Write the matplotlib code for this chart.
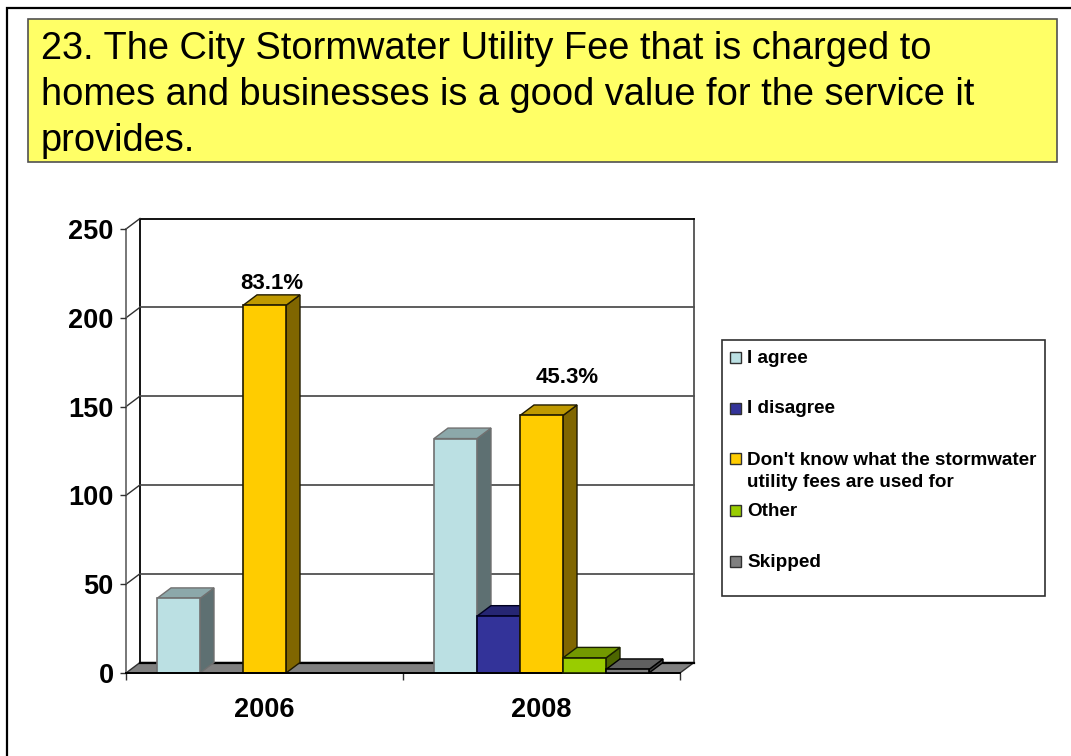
import matplotlib
matplotlib.use("Agg")
import matplotlib.pyplot as plt
from matplotlib.patches import Polygon, Rectangle

plt.rcParams['font.family'] = ['Liberation Sans', 'DejaVu Sans']

W, H = 1071, 756
title_lines = ["23. The City Stormwater Utility Fee that is charged to",
               "homes and businesses is a good value for the service it",
               "provides."]
years = ["2006", "2008"]
series = ["I agree", "I disagree", "Don't know what the stormwater\nutility fees are used for", "Other", "Skipped"]
values_2006 = [42, 0, 207, 0, 0]
values_2008 = [132, 32, 145, 8.5, 2]
y_ticks = [0, 50, 100, 150, 200, 250]
front_colors = ["#BBE0E3", "#333399", "#FFCC00", "#99CC00", "#808080"]
top_colors = ["#8CA8AA", "#262673", "#BF9900", "#739900", "#606060"]
side_colors = ["#5E7072", "#1A1A4D", "#806600", "#4D6600", "#404040"]
edge_colors = ["#707070", "#000020", "#201a00", "#1a2000", "#000000"]

fig = plt.figure(figsize=(W / 100, H / 100), dpi=100, facecolor="white")

# pixel overlay
ov = fig.add_axes([0, 0, 1, 1], zorder=0)
ov.set_xlim(0, W)
ov.set_ylim(H, 0)
ov.axis("off")

# slide border
ov.plot([7, 7, W], [H, 8, 8], color="black", lw=1.6, solid_joinstyle="miter")

# title
ov.add_patch(Rectangle((28, 19), 1029, 143, facecolor="#FFFF66", edgecolor="#505050", lw=1.2))
for ln, base in zip(title_lines, [59, 105, 151]):
    ov.text(41, base, ln, fontsize=27.4, va="baseline", ha="left", color="black")

# chart axes
L, R, T, B = 126, 680, 229, 673
ax = fig.add_axes([L / W, 1 - B / H, (R - L) / W, (B - T) / H], zorder=1)
ax.patch.set_alpha(0)
ax.set_xlim(0, 2)
ax.set_ylim(0, 250)
dx = 14 / (R - L) * 2
dy = 10.5 / (B - T) * 250
for s in ["top", "right"]:
    ax.spines[s].set_visible(False)
ax.spines["left"].set_color("#606060")
ax.spines["left"].set_linewidth(1.2)
ax.spines["bottom"].set_color("black")
ax.spines["bottom"].set_linewidth(1.4)
ax.spines["left"].set_zorder(1)

# floor
ax.add_patch(Polygon([(0, 0), (dx, dy), (2 + dx, dy), (2, 0)], closed=True,
                     facecolor="#808080", edgecolor="#303030", lw=1.0, clip_on=False, zorder=1))
ax.plot([dx, 2 + dx], [dy, dy], color="black", lw=1.6, clip_on=False, zorder=1.1)
# walls and gridlines
ax.plot([dx, dx], [dy, 250 + dy], color="black", lw=1.3, clip_on=False, zorder=1)
ax.plot([2 + dx, 2 + dx], [dy, 250 + dy], color="#505050", lw=1.3, clip_on=False, zorder=1)
for v in y_ticks[1:]:
    col = "black" if v == 250 else "#505050"
    ax.plot([dx, 2 + dx], [v + dy, v + dy], color=col, lw=1.3, clip_on=False, zorder=1)
    ax.plot([0, dx], [v, v + dy], color="#303030", lw=1.0, clip_on=False, zorder=1)

# bars
bw = 43 / (R - L) * 2
gap = (1 - 5 * bw) / 2
z = 2
for c, vals in enumerate([values_2006, values_2008]):
    for i, v in enumerate(vals):
        if v <= 0:
            continue
        x0 = c + gap + i * bw
        x1 = x0 + bw
        ec = edge_colors[i]
        ax.add_patch(Polygon([(x1, 0), (x1 + dx, dy), (x1 + dx, v + dy), (x1, v)], closed=True,
                             facecolor=side_colors[i], edgecolor=ec, lw=1.0, clip_on=False, zorder=z))
        ax.add_patch(Polygon([(x0, v), (x0 + dx, v + dy), (x1 + dx, v + dy), (x1, v)], closed=True,
                             facecolor=top_colors[i], edgecolor=ec, lw=1.0, clip_on=False, zorder=z))
        ax.bar(x0, v, width=bw, align="edge", color=front_colors[i], edgecolor=ec, lw=1.2,
               clip_on=False, zorder=z)
        z += 0.1

# percentage labels
bar_06_x = 0 + gap + 2.5 * bw
bar_08_x = 1 + gap + 2.5 * bw
ax.annotate("83.1%", (bar_06_x, values_2006[2]), xytext=(5, 16), textcoords="offset points",
            ha="center", va="center", fontsize=16, fontweight="bold", annotation_clip=False, zorder=10)
ax.annotate("45.3%", (bar_08_x, values_2008[2]), xytext=(18.5, 27.5), textcoords="offset points",
            ha="center", va="center", fontsize=16, fontweight="bold", annotation_clip=False, zorder=10)

# ticks
ax.set_yticks(y_ticks)
ax.set_yticklabels([str(v) for v in y_ticks], fontsize=19.5, fontweight="bold")
ax.tick_params(axis="y", length=4, width=1, color="#303030", pad=5)
ax.set_xticks([0, 1, 2])
ax.set_xticklabels([])
ax.set_xticks([0.5, 1.5], minor=True)
ax.set_xticklabels(years, minor=True, fontsize=19.5, fontweight="bold")
ax.tick_params(axis="x", which="major", length=5, width=1, color="#303030")
ax.tick_params(axis="x", which="minor", length=0, pad=17)

# legend
ov2 = fig.add_axes([0, 0, 1, 1], zorder=3)
ov2.set_xlim(0, W)
ov2.set_ylim(H, 0)
ov2.axis("off")
ov2.add_patch(Rectangle((722, 340), 323, 256, facecolor="white", edgecolor="#303030", lw=1.2))
swatch_y = [357, 408, 458.5, 510, 561]
text_base = [[363], [413], [465, 487], [516], [567]]
for name, fc, y, bases in zip(series, front_colors, swatch_y, text_base):
    ov2.add_patch(Rectangle((729.5, y - 5.5), 11, 11, facecolor=fc, edgecolor="#303030", lw=1.0))
    for part, base in zip(name.split("\n"), bases):
        ov2.text(747, base, part, fontsize=13.6, fontweight="bold", va="baseline", ha="left")

fig.savefig("out.png", dpi=100, facecolor="white")
